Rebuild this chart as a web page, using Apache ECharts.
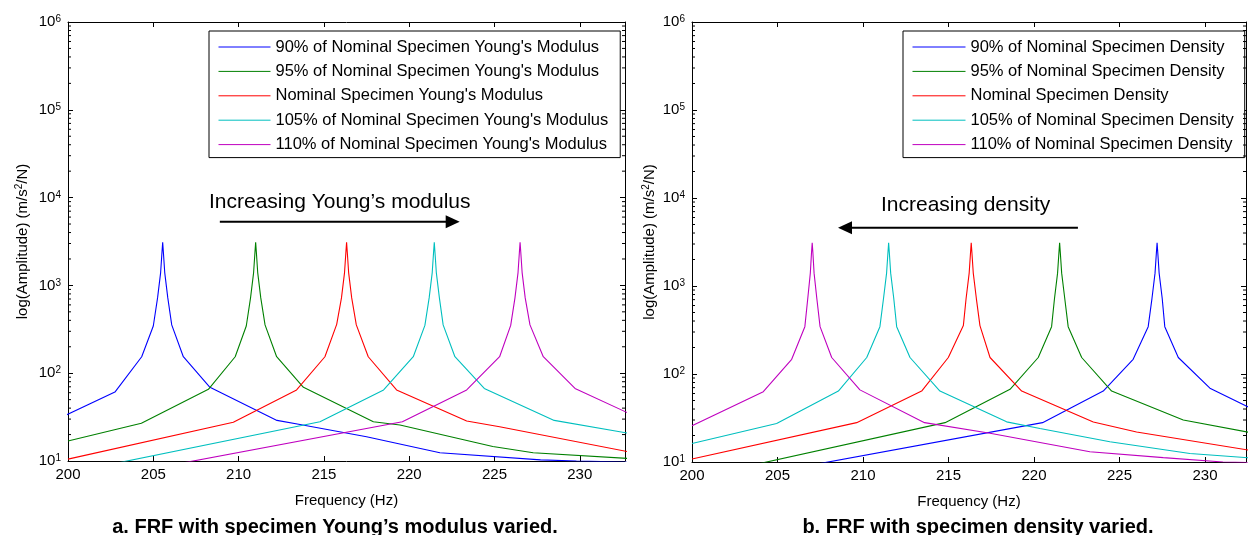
<!DOCTYPE html>
<html>
<head>
<meta charset="utf-8">
<script src="https://cdn.jsdelivr.net/npm/echarts@6/dist/echarts.min.js"></script>
<style>
html,body{margin:0;padding:0;background:#fff;}
#c{width:1251px;height:535px;}
</style>
</head>
<body>
<div id="c"></div>
<script>
// ---------------- data ----------------
const youngNames = [
  "90% of Nominal Specimen Young's Modulus",
  "95% of Nominal Specimen Young's Modulus",
  "Nominal Specimen Young's Modulus",
  "105% of Nominal Specimen Young's Modulus",
  "110% of Nominal Specimen Young's Modulus"
];
const densityNames = [
  "90% of Nominal Specimen Density",
  "95% of Nominal Specimen Density",
  "Nominal Specimen Density",
  "105% of Nominal Specimen Density",
  "110% of Nominal Specimen Density"
];
const seriesColors = ['#0000ff', '#008000', '#ff0000', '#00bfbf', '#bf00bf'];

const xTickValues = [200, 205, 210, 215, 220, 225, 230];
const yTickExponents = [1, 2, 3, 4, 5, 6];
const minorTickValues = [
  20, 30, 40, 50, 60, 70, 80, 90,
  200, 300, 400, 500, 600, 700, 800, 900,
  2000, 3000, 4000, 5000, 6000, 7000, 8000, 9000,
  20000, 30000, 40000, 50000, 60000, 70000, 80000, 90000,
  200000, 300000, 400000, 500000, 600000, 700000, 800000, 900000
];

// Panel a: Young's modulus varied  [frequency Hz, amplitude]
const young90 = [[198.8,26.5],[202.75,61],[204.32,154],[205.0,345],[205.25,720],[205.43,1400],[205.51,2400],[205.55,3100],[205.59,2400],[205.67,1400],[205.85,720],[206.08,355],[206.76,154],[208.32,69],[212.25,29],[213.6,26],[217.5,18.9],[221.8,12.4],[227.7,10.3],[229.8,10.0],[233,9.7]];
const young95 = [[200,16.9],[204.3,26.9],[208.23,65.6],[209.8,154],[210.45,345],[210.7,720],[210.88,1400],[210.96,2400],[211.0,3100],[211.04,2400],[211.12,1400],[211.3,720],[211.55,355],[212.23,154],[213.8,69],[217.9,28],[219.46,25.7],[224.9,14.6],[227.27,12.4],[232.8,10.7]];
const young100 = [[200,10.5],[209.69,27.6],[213.4,64.5],[215.06,154],[215.75,360],[216.03,720],[216.21,1400],[216.29,2400],[216.33,3100],[216.37,2400],[216.45,1400],[216.63,720],[216.9,355],[217.6,154],[219.26,64.5],[223.37,28.6],[225.3,24.6],[232.8,12.8]];
const young105 = [[200,7.3],[214.77,28],[218.5,64.5],[220.24,154],[220.92,350],[221.17,720],[221.35,1400],[221.43,2400],[221.47,3100],[221.51,2400],[221.59,1400],[221.77,720],[221.99,355],[222.68,154],[224.4,67],[228.5,29],[233,20.5]];
const young110 = [[200,5.4],[219.6,28],[223.37,64.5],[225.3,154],[225.95,350],[226.2,720],[226.38,1400],[226.46,2400],[226.5,3100],[226.54,2400],[226.62,1400],[226.8,720],[227.08,355],[227.86,154],[229.72,67],[233,34]];

// Panel b: density varied
const density90 = [[200,5.2],[220.5,28],[224.05,64],[225.8,147],[226.68,345],[226.9,720],[227.08,1400],[227.16,2400],[227.2,3100],[227.24,2400],[227.32,1400],[227.5,720],[227.65,345],[228.44,154],[230.29,69],[233,38]];
const density95 = [[200,6.5],[214.8,28],[218.6,67],[220.25,154],[221.03,345],[221.2,720],[221.38,1400],[221.46,2400],[221.5,3100],[221.54,2400],[221.62,1400],[221.8,720],[222.0,345],[222.79,154],[224.54,64],[228.73,30],[233,21]];
const density100 = [[200,10.8],[209.63,28],[213.43,64],[214.99,154],[215.87,355],[216.03,720],[216.21,1400],[216.29,2400],[216.33,3100],[216.37,2400],[216.45,1400],[216.63,720],[216.84,355],[217.43,154],[219.28,64],[223.47,28.5],[226,21.9],[233,13.2]];
const density105 = [[200,16.2],[204.95,27.4],[208.56,64],[210.22,154],[210.99,345],[211.2,720],[211.38,1400],[211.46,2400],[211.5,3100],[211.54,2400],[211.62,1400],[211.8,720],[211.97,345],[212.75,154],[214.5,64],[218.4,28.6],[220.35,24],[224.44,17],[229.12,12.5],[233,11]];
const density110 = [[200,25.8],[204.17,63],[205.83,147],[206.6,345],[206.77,720],[206.92,1400],[206.99,2400],[207.03,3100],[207.07,2400],[207.14,1400],[207.3,720],[207.49,345],[208.17,154],[209.82,66],[213.6,28],[217.43,21.2],[223.27,13.1],[227.56,11.2],[231.05,10],[233,9.8]];

const youngData = [young90, young95, young100, young105, young110];
const densityData = [density90, density95, density100, density105, density110];

const captions = ["a. FRF with specimen Young\u2019s modulus varied.", "b. FRF with specimen density varied."];
const arrowTexts = ["Increasing Young\u2019s modulus", "Increasing density"];
// annotation anchors in data space: [freqStart, freqEnd(tip), amplitude], text [freq, amplitude]
const arrowYoung = [208.9, 222.96, 5315];
const arrowYoungText = [215.93, 8900];
const arrowDensity = [222.57, 208.54, 4600];
const arrowDensityText = [216.0, 8300];

// ---------------- chart ----------------
const FONT = 'Liberation Sans, Arial, Helvetica, sans-serif';
const chart = echarts.init(document.getElementById('c'), null, {renderer: 'canvas'});

const xMax = [232.65, 232.4];
const grids = [
  {left: 68, top: 22, width: 557, height: 439},
  {left: 692, top: 22, width: 554, height: 440}
];

function xAxesFor(gi) {
  const common = {
    type: 'value', gridIndex: gi, min: 200, max: xMax[gi], interval: 5,
    splitLine: {show: false},
    axisLine: {show: true, onZero: false, lineStyle: {color: '#000', width: 1}},
    axisTick: {show: true, inside: true, length: 5, lineStyle: {color: '#000'}}
  };
  return [
    Object.assign({}, common, {
      position: 'bottom',
      axisLabel: {
        show: true, color: '#000', fontSize: 15, fontFamily: FONT, margin: 6,
        formatter: v => (xTickValues.indexOf(v) >= 0 ? String(v) : '')
      },
      name: 'Frequency (Hz)', nameLocation: 'middle', nameGap: 32,
      nameTextStyle: {color: '#000', fontSize: 15, fontFamily: FONT}
    }),
    Object.assign({}, common, {position: 'top', axisLabel: {show: false}})
  ];
}

function yAxesFor(gi) {
  const common = {
    type: 'log', logBase: 10, gridIndex: gi, min: 10, max: 1e6,
    splitLine: {show: false},
    axisLine: {show: true, onZero: false, lineStyle: {color: '#000', width: 1}},
    axisTick: {show: true, inside: true, length: 5, lineStyle: {color: '#000'}}
  };
  return [
    Object.assign({}, common, {
      position: 'left',
      axisLabel: {
        show: true, margin: 7, color: '#000', fontFamily: FONT,
        formatter: v => {
          const e = Math.round(Math.log10(v));
          return yTickExponents.indexOf(e) >= 0 ? '{b|10}{s|' + e + '}' : '';
        },
        rich: {
          b: {fontSize: 15, lineHeight: 15, padding: [3, 0, 3, 0], color: '#000', fontFamily: FONT},
          s: {fontSize: 10, lineHeight: 11, verticalAlign: 'top', color: '#000', fontFamily: FONT}
        }
      },
      name: '{a|log(Amplitude) (m/s}{s|2}{a|/N)}', nameLocation: 'middle', nameGap: gi === 0 ? 36 : 33,
      nameRotate: 90,
      nameTextStyle: {
        color: '#000', fontFamily: FONT,
        rich: {
          a: {fontSize: 15, lineHeight: 18, color: '#000', fontFamily: FONT},
          s: {fontSize: 10, lineHeight: 18, verticalAlign: 'top', color: '#000', fontFamily: FONT, padding: [0, 0, 8, 0]}
        }
      }
    }),
    Object.assign({}, common, {position: 'right', axisLabel: {show: false}})
  ];
}

function minorTickSeries(axisIdx) {
  return {
    type: 'custom', xAxisIndex: axisIdx, yAxisIndex: axisIdx, silent: true, clip: false, z: 5,
    data: minorTickValues.map(v => [200, v]),
    renderItem: (params, api) => {
      const p = api.coord([api.value(0), api.value(1)]);
      const cs = params.coordSys;
      return {
        type: 'group', children: [
          {type: 'line', shape: {x1: cs.x, y1: p[1], x2: cs.x + 3, y2: p[1]}, style: {stroke: '#000', lineWidth: 1}},
          {type: 'line', shape: {x1: cs.x + cs.width, y1: p[1], x2: cs.x + cs.width - 3, y2: p[1]}, style: {stroke: '#000', lineWidth: 1}}
        ]
      };
    }
  };
}

const series = [];
youngData.forEach((d, i) => series.push({
  name: youngNames[i], type: 'line', xAxisIndex: 0, yAxisIndex: 0, data: d,
  symbol: 'none', showSymbol: false, clip: true, color: seriesColors[i],
  lineStyle: {width: 1.1, color: seriesColors[i]}
}));
densityData.forEach((d, i) => series.push({
  name: densityNames[i], type: 'line', xAxisIndex: 2, yAxisIndex: 2, data: d,
  symbol: 'none', showSymbol: false, clip: true, color: seriesColors[i],
  lineStyle: {width: 1.1, color: seriesColors[i]}
}));
series.push(minorTickSeries(0));
series.push(minorTickSeries(2));

const legendCommon = {
  orient: 'vertical', top: 31, itemHeight: 14, itemGap: 7.4,
  backgroundColor: '#fff', borderColor: '#000', borderWidth: 1, borderRadius: 0,
  selectedMode: false,
  itemStyle: {opacity: 0},
  lineStyle: {width: 1},
  textStyle: {color: '#000', fontSize: 16.5, fontFamily: FONT}
};

const option = {
  animation: false,
  backgroundColor: '#fff',
  textStyle: {fontFamily: FONT},
  grid: grids.map(g => Object.assign({containLabel: false, show: false}, g)),
  xAxis: xAxesFor(0).concat(xAxesFor(1)),
  yAxis: yAxesFor(0).concat(yAxesFor(1)),
  legend: [
    Object.assign({}, legendCommon, {left: 209, data: youngNames, itemWidth: 52, padding: [7.5, 12, 4.5, 9]}),
    Object.assign({}, legendCommon, {left: 903, data: densityNames, itemWidth: 53, padding: [7.5, 11, 4.5, 9]})
  ],
  title: [
    {text: captions[0], left: 330, top: 512, textAlign: 'center',
     textStyle: {fontSize: 20, fontWeight: 'bold', color: '#000', fontFamily: FONT}},
    {text: captions[1], left: 973, top: 512, textAlign: 'center',
     textStyle: {fontSize: 20, fontWeight: 'bold', color: '#000', fontFamily: FONT}}
  ],
  series: series
};
chart.setOption(option);

// annotations anchored through the axes' scales
function arrowGraphics(finder, arrow, textPos, text) {
  const a = chart.convertToPixel(finder, [arrow[0], arrow[2]]);
  const b = chart.convertToPixel(finder, [arrow[1], arrow[2]]);
  const t = chart.convertToPixel(finder, textPos);
  const dir = b[0] > a[0] ? 1 : -1;
  const headLen = 14, headHalf = 6.5;
  return [
    {type: 'line', shape: {x1: a[0], y1: a[1], x2: b[0] - dir * (headLen - 2), y2: b[1]},
     style: {stroke: '#000', lineWidth: 2}, z: 100},
    {type: 'polygon', shape: {points: [[b[0], b[1]], [b[0] - dir * headLen, b[1] - headHalf], [b[0] - dir * headLen, b[1] + headHalf]]},
     style: {fill: '#000'}, z: 100},
    {type: 'text', x: t[0], y: t[1], z: 100,
     style: {text: text, fontSize: 21, fontFamily: FONT, fill: '#000', align: 'center', verticalAlign: 'middle'}}
  ];
}
const g = []
  .concat(arrowGraphics({xAxisIndex: 0, yAxisIndex: 0}, arrowYoung, arrowYoungText, arrowTexts[0]))
  .concat(arrowGraphics({xAxisIndex: 2, yAxisIndex: 2}, arrowDensity, arrowDensityText, arrowTexts[1]));
chart.setOption({graphic: g});
</script>
</body>
</html>
